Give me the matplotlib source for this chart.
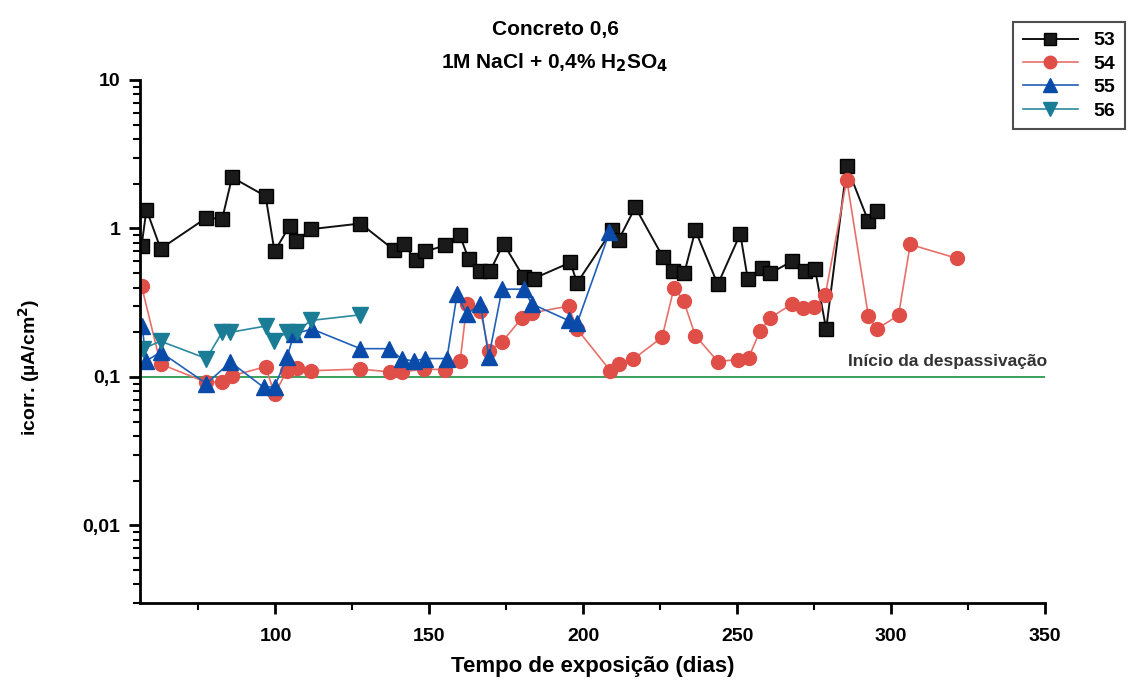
import numpy as np
import matplotlib.pyplot as plt
from matplotlib.ticker import FixedLocator, LogLocator, NullFormatter

plt.rcParams['font.family'] = ['Liberation Sans', 'DejaVu Sans']
plt.rcParams['font.weight'] = 'bold'

# dados
x53 = [56.5, 58.1, 62.7, 77.6, 82.7, 85.9, 96.8, 99.7, 104.6, 106.7, 111.7, 127.6, 138.4,
       141.7, 145.5, 148.7, 155.2, 159.8, 162.8, 166.6, 169.8, 174.1, 180.6, 183.9, 195.8,
       198.0, 209.3, 211.5, 216.9, 225.9, 229.3, 232.8, 236.4, 243.7, 251.0, 253.4, 258.0,
       260.7, 267.8, 272.0, 275.3, 278.9, 285.6, 292.6, 295.3]
y53 = [0.76, 1.34, 0.73, 1.18, 1.16, 2.21, 1.65, 0.70, 1.04, 0.82, 0.99, 1.08, 0.72,
       0.79, 0.61, 0.70, 0.77, 0.91, 0.62, 0.52, 0.52, 0.79, 0.47, 0.46, 0.59,
       0.43, 0.97, 0.84, 1.39, 0.64, 0.52, 0.50, 0.97, 0.42, 0.92, 0.46, 0.54,
       0.50, 0.60, 0.52, 0.53, 0.21, 2.62, 1.12, 1.31]

x54 = [56.5, 62.7, 77.6, 82.7, 85.9, 96.8, 99.7, 103.8, 107.0, 111.4, 127.6, 137.3, 141.1,
       148.1, 155.2, 160.0, 162.2, 166.6, 169.3, 173.6, 180.1, 183.3, 195.2, 198.0, 208.8,
       211.5, 216.3, 225.6, 229.5, 232.6, 236.4, 243.7, 250.2, 253.7, 257.5, 260.7, 267.8,
       271.5, 274.8, 278.6, 285.6, 292.6, 295.3, 302.4, 306.2, 321.3]
y54 = [0.41, 0.122, 0.092, 0.092, 0.102, 0.117, 0.077, 0.11, 0.114, 0.11, 0.113, 0.108, 0.108,
       0.113, 0.112, 0.128, 0.31, 0.28, 0.15, 0.172, 0.25, 0.27, 0.30, 0.21, 0.11,
       0.122, 0.132, 0.185, 0.40, 0.325, 0.19, 0.127, 0.131, 0.135, 0.205, 0.25, 0.31,
       0.29, 0.296, 0.355, 2.13, 0.258, 0.21, 0.26, 0.78, 0.63]

x55 = [56.7, 58.0, 62.7, 77.6, 85.4, 96.2, 99.7, 103.8, 106.0, 111.9, 127.6, 136.8, 141.1,
       144.9, 148.7, 155.7, 159.0, 162.2, 166.6, 169.3, 173.6, 180.6, 183.3, 195.2, 198.0,
       208.5]
y55 = [0.22, 0.128, 0.147, 0.09, 0.126, 0.085, 0.086, 0.136, 0.195, 0.21, 0.155, 0.155, 0.132,
       0.128, 0.133, 0.133, 0.36, 0.265, 0.31, 0.136, 0.39, 0.39, 0.31, 0.24, 0.23,
       0.94]

x56 = [57.0, 62.7, 77.6, 82.7, 85.4, 96.8, 99.5, 103.8, 107.0, 111.4, 127.6]
y56 = [0.155, 0.174, 0.133, 0.20, 0.20, 0.22, 0.175, 0.20, 0.20, 0.24, 0.262]

ytick_vals = [0.01, 0.1, 1, 10]
ytick_txt = ['0,01', '0,1', '1', '10']

fig = plt.figure(figsize=(11.4, 6.82), dpi=100)
ax = fig.add_axes([0.1228, 0.1158, 0.7939, 0.7669])

ax.plot(x53, y53, '-s', color='#111111', mfc='#1a1a1a', mec='#000000', ms=9.5, lw=1.4, label='53')
ax.plot(x54, y54, '-o', color='#e8706a', mfc='#e04e48', mec='#e04e48', ms=10, lw=1.2, label='54')
ax.plot(x55, y55, '-^', color='#2060b8', mfc='#0a4aa8', mec='#0a4aa8', ms=11, lw=1.2, label='55')
ax.plot(x56, y56, '-v', color='#2a8aa0', mfc='#1a7d95', mec='#1a7d95', ms=11, lw=1.2, label='56')

ax.axhline(0.1, color='#3aa05a', lw=1.4, zorder=0)
ax.text(286, 0.128, 'Início da despassivação', fontsize=12.5, fontweight='bold',
        color='#333333', ha='left', va='center')

ax.set_yscale('log')
ax.set_xlim(56, 350)
ax.set_ylim(0.003, 10)

ax.xaxis.set_major_locator(FixedLocator([100, 150, 200, 250, 300, 350]))
ax.xaxis.set_minor_locator(FixedLocator([75, 125, 175, 225, 275, 325]))
ax.yaxis.set_major_locator(FixedLocator(ytick_vals))
ax.yaxis.set_minor_locator(LogLocator(base=10, subs=np.arange(2, 10)))
ax.yaxis.set_minor_formatter(NullFormatter())
ax.set_yticklabels(ytick_txt)

for s in ['top', 'right']:
    ax.spines[s].set_visible(False)
for s in ['left', 'bottom']:
    ax.spines[s].set_linewidth(2)

ax.tick_params(axis='both', which='major', direction='out', length=8, width=2, labelsize=14)
ax.tick_params(axis='both', which='minor', direction='out', length=5, width=1.5)
ax.tick_params(axis='x', pad=10)
ax.tick_params(axis='y', pad=6)

ax.set_xlabel('Tempo de exposição (dias)', fontsize=16, fontweight='bold', labelpad=8)
ax.set_ylabel('icorr. (µA/cm$^2$)', fontsize=14, fontweight='bold')
ax.yaxis.set_label_coords(-0.108, 0.45)

fig.text(0.487, 0.957, 'Concreto 0,6', ha='center', va='center', fontsize=15, fontweight='bold')
fig.text(0.487, 0.908, '1M NaCl + 0,4% H$_2$SO$_4$', ha='center', va='center', fontsize=15, fontweight='bold')

leg = ax.legend(loc='upper right', bbox_to_anchor=(0.995, 0.982), bbox_transform=fig.transFigure,
                fontsize=14, frameon=True, fancybox=False, edgecolor='#222222', borderpad=0.5,
                handlelength=2.8, labelspacing=0.3, markerscale=0.9)
leg.get_frame().set_linewidth(1.5)

fig.savefig('out.png', dpi=100)
